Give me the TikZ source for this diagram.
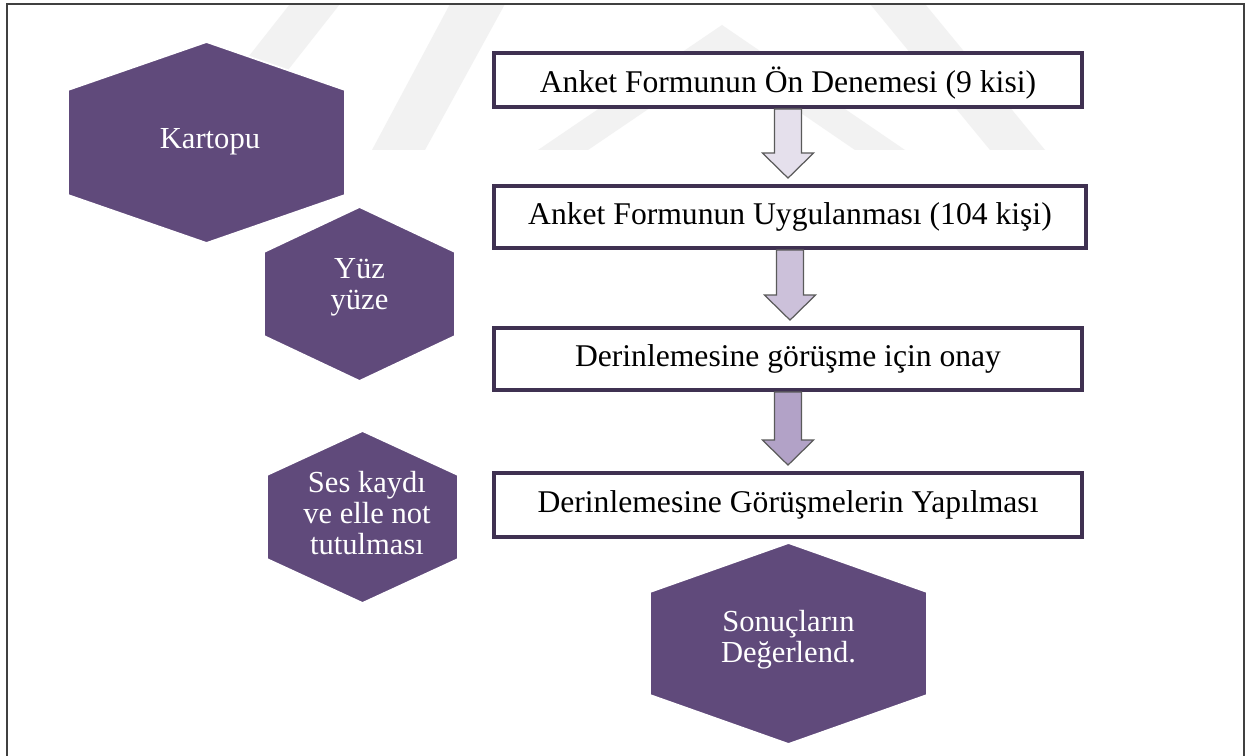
\documentclass[tikz,border=0pt]{standalone}
\usepackage{fontspec}
\setmainfont{Liberation Serif}
\usetikzlibrary{calc}

\definecolor{hexpurple}{HTML}{604A7B}
\definecolor{boxline}{HTML}{3F3151}
\definecolor{arrowA}{HTML}{E5E0EC}
\definecolor{arrowB}{HTML}{CCC1DA}
\definecolor{arrowC}{HTML}{B2A2C7}
\definecolor{arrowline}{HTML}{5A5A5A}
\definecolor{watermark}{HTML}{F2F2F2}
\definecolor{framegray}{HTML}{404040}

\tikzset{
    stepbox/.style={draw=boxline, line width=2.2pt, fill=white, inner sep=0pt,
        font=\fontsize{18}{20}\selectfont},
    hexlabel/.style={text=white, align=center, inner sep=0pt,
        font=\fontsize{17.4}{17.6}\selectfont},
    hexfill/.style={fill=hexpurple, draw=white, line width=1pt},
    flowarrow/.style={draw=arrowline, line width=0.7pt, line join=miter},
}

% block arrow from the bottom of #1 to the top of #2, filled with #3
\newcommand{\blockarrow}[3]{%
    \draw[flowarrow, fill=#3] ($(#1.south)+(-13.5,0)$) -- ($(#1.south)+(13.5,0)$)
        -- ($(#1.south |- #2.north)+(13.5,-31)$) -- ($(#1.south |- #2.north)+(25.5,-31)$)
        -- ($(#1.south |- #2.north)+(0,-6)$)
        -- ($(#1.south |- #2.north)+(-25.5,-31)$) -- ($(#1.south |- #2.north)+(-13.5,-31)$)
        -- cycle;}

\begin{document}
\begin{tikzpicture}[x=0.02cm, y=-0.02cm]
    \useasboundingbox (0,0) rectangle (1254,756);
    \clip (0,0) rectangle (1254,756);
    \fill[white] (0,0) rectangle (1254,756);

    % faint watermark behind the chart
    \fill[watermark] (290,4) -- (340,4) -- (225,150) -- (175,150) -- cycle;
    \fill[watermark] (450,4) -- (505,4) -- (425,150) -- (372,150) -- cycle;
    \fill[watermark] (722,25) -- (905,150) -- (855,150) -- (722,59) -- (588,150) -- (538,150) -- cycle;
    \fill[watermark] (870,4) -- (925,4) -- (1045,150) -- (990,150) -- cycle;

    \draw[framegray, line width=0.9pt] (7,4) rectangle (1244,790);

    \foreach \hname/\cx/\cy/\hw/\hh/\tip/\tx/\ty/\htext in {
        kartopu/206.5/142.5/138.5/100.5/48/210/142/Kartopu,
        yuzyuze/359.5/294/95.5/87/45/359.5/287/{Yüz\\yüze},
        seskaydi/362.5/517/95.5/86/44/367/513/{Ses kaydı\\ve elle not\\tutulması},
        sonuc/788.5/643.5/138.5/100.5/49/788.5/640/{Sonuçların\\Değerlend.}}
    {
        \filldraw[hexfill] (\cx,\cy-\hh) -- (\cx+\hw,\cy-\hh+\tip) -- (\cx+\hw,\cy+\hh-\tip)
            -- (\cx,\cy+\hh) -- (\cx-\hw,\cy+\hh-\tip) -- (\cx-\hw,\cy-\hh+\tip) -- cycle;
        \node[hexlabel] (\hname) at (\tx,\ty) {\htext};
    }

    \node[stepbox, minimum width=11.76cm, minimum height=1.08cm, text depth=0pt] (ondeneme) at (788,80)
        {Anket Formunun Ön Denemesi (9 kisi)};
    \node[stepbox, minimum width=11.84cm, minimum height=1.24cm] (uygulama) at (790,217)
        {Anket Formunun Uygulanması (104 kişi)};
    \node[stepbox, minimum width=11.76cm, minimum height=1.24cm] (onay) at (788,359)
        {Derinlemesine görüşme için onay};
    \node[stepbox, minimum width=11.76cm, minimum height=1.28cm] (gorusme) at (788,505)
        {Derinlemesine Görüşmelerin Yapılması};

    \blockarrow{ondeneme}{uygulama}{arrowA}
    \blockarrow{uygulama}{onay}{arrowB}
    \blockarrow{onay}{gorusme}{arrowC}
\end{tikzpicture}
\end{document}
